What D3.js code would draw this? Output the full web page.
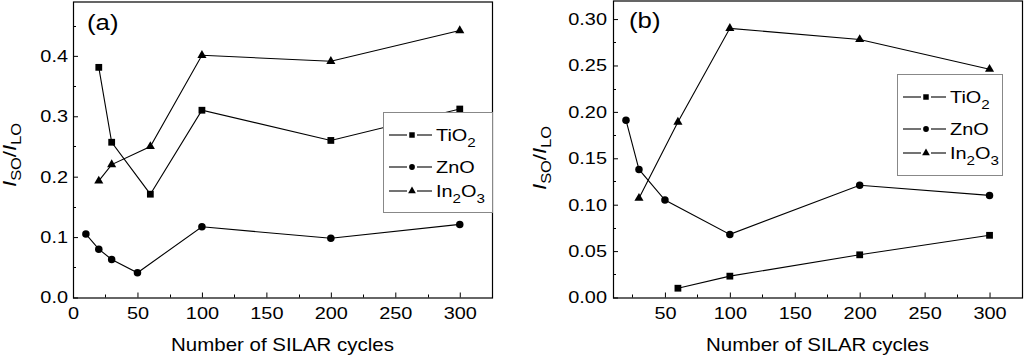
<!DOCTYPE html>
<html>
<head>
<meta charset="utf-8">
<script src="https://cdn.jsdelivr.net/npm/d3@7"></script>
<style>
  html, body { margin: 0; padding: 0; background: #fff; }
  svg { display: block; font-family: "Liberation Sans", Arial, sans-serif; }
</style>
</head>
<body>
<svg id="chart" width="1024" height="357"></svg>
<script>
// ---------- data ----------
const seriesNames = ["TiO2", "ZnO", "In2O3"];

// Panel (a)
const a_TiO2_x = [20, 30, 60, 100, 200, 300];
const a_TiO2_y = [0.381, 0.257, 0.171, 0.310, 0.260, 0.312];
const a_ZnO_x = [10, 20, 30, 50, 100, 200, 300];
const a_ZnO_y = [0.105, 0.080, 0.063, 0.041, 0.117, 0.098, 0.121];
const a_In2O3_x = [20, 30, 60, 100, 200, 300];
const a_In2O3_y = [0.193, 0.220, 0.250, 0.401, 0.391, 0.442];

// Panel (b)
const b_TiO2_x = [60, 100, 200, 300];
const b_TiO2_y = [0.010, 0.023, 0.046, 0.067];
const b_ZnO_x = [20, 30, 50, 100, 200, 300];
const b_ZnO_y = [0.191, 0.138, 0.105, 0.068, 0.121, 0.110];
const b_In2O3_x = [30, 60, 100, 200, 300];
const b_In2O3_y = [0.107, 0.189, 0.290, 0.278, 0.246];

// tick labels
const a_xTicks = [0, 50, 100, 150, 200, 250, 300];
const a_yTicks = [0.0, 0.1, 0.2, 0.3, 0.4];
const b_xTicks = [50, 100, 150, 200, 250, 300];
const b_yTicks = [0.00, 0.05, 0.10, 0.15, 0.20, 0.25, 0.30];

const xTitle = "Number of SILAR cycles";

// ---------- drawing ----------
const svg = d3.select("#chart");
const SX = 1.17; // horizontal stretch of the original typography

const symbols = [d3.symbolSquare, d3.symbolCircle, d3.symbolTriangle];
const markSizes = [46, 44, 36];
const legendSizes = [30, 26, 26];

function stretchedText(g, x, y, size, anchor) {
  return g.append("text")
    .attr("transform", `translate(${x},${y}) scale(${SX},1)`)
    .attr("font-size", size)
    .attr("text-anchor", anchor || "start")
    .attr("fill", "#000");
}

function panel(cfg) {
  const g = svg.append("g");
  const x = d3.scaleLinear().domain(cfg.xDomain).range([cfg.left, cfg.right]);
  const y = d3.scaleLinear().domain(cfg.yDomain).range([cfg.bottom, cfg.top]);

  // minor ticks
  const xMinor = d3.range(cfg.xMinorStart, cfg.xDomain[1], 50);
  const yMinor = cfg.yMinor;
  g.append("g").selectAll("line").data(xMinor).join("line")
    .attr("x1", d => Math.round(x(d)) + 0.5).attr("x2", d => Math.round(x(d)) + 0.5)
    .attr("y1", cfg.bottom).attr("y2", cfg.bottom - 3)
    .attr("stroke", "#000").attr("stroke-width", 1);
  g.append("g").selectAll("line").data(yMinor).join("line")
    .attr("y1", d => Math.round(y(d)) + 0.5).attr("y2", d => Math.round(y(d)) + 0.5)
    .attr("x1", cfg.left).attr("x2", cfg.left + 3)
    .attr("stroke", "#000").attr("stroke-width", 1);

  // axes
  const xAxis = d3.axisBottom(x).tickValues(cfg.xTicks).tickSize(-5).tickPadding(9)
    .tickFormat(d3.format("d"));
  const gx = g.append("g").attr("transform", `translate(0,${cfg.bottom})`).call(xAxis);
  gx.select(".domain").remove();
  gx.selectAll(".tick line").attr("stroke-width", 1);
  gx.selectAll(".tick text").attr("font-size", 17).attr("font-family", "Liberation Sans, Arial, sans-serif")
    .attr("transform", `scale(${SX},1)`).attr("fill", "#000");

  const yAxis = d3.axisLeft(y).tickValues(cfg.yTicks).tickSize(-5).tickPadding(0)
    .tickFormat(d3.format(cfg.yFormat));
  const gy = g.append("g").attr("transform", `translate(${cfg.left},0)`).call(yAxis);
  gy.select(".domain").remove();
  gy.selectAll(".tick text").attr("font-size", 17).attr("font-family", "Liberation Sans, Arial, sans-serif")
    .attr("x", null).attr("transform", `translate(${-cfg.yLabelGap},0) scale(${SX},1)`).attr("fill", "#000");

  // frame
  g.append("rect")
    .attr("x", cfg.left + 0.5).attr("y", cfg.top + 0.5)
    .attr("width", cfg.right - cfg.left).attr("height", cfg.bottom - cfg.top)
    .attr("fill", "none").attr("stroke", "#000").attr("stroke-width", 1.2);

  // series
  const line = d3.line().x(d => x(d[0])).y(d => y(d[1]));
  cfg.series.forEach((s, i) => {
    const pts = s.xs.map((v, k) => [v, s.ys[k]]);
    g.append("path").attr("d", line(pts)).attr("fill", "none")
      .attr("stroke", "#000").attr("stroke-width", 1.1);
    g.append("g").selectAll("path").data(pts).join("path")
      .attr("transform", d => `translate(${x(d[0])},${y(d[1])})`)
      .attr("d", d3.symbol().type(symbols[i]).size(markSizes[i]))
      .attr("fill", "#000");
  });

  // legend
  const L = cfg.legend;
  const lg = g.append("g");
  lg.append("rect").attr("x", L.x + 0.5).attr("y", L.y + 0.5)
    .attr("width", L.w).attr("height", L.h)
    .attr("fill", "#fff").attr("stroke", "#888").attr("stroke-width", 1);
  const rowOff = [23, 55, 79];
  seriesNames.forEach((nm, i) => {
    const cy = L.y + rowOff[i];
    lg.append("line").attr("x1", L.x + 6).attr("x2", L.x + 24).attr("y1", cy).attr("y2", cy)
      .attr("stroke", "#000").attr("stroke-width", 1.1);
    lg.append("line").attr("x1", L.x + 34).attr("x2", L.x + 49).attr("y1", cy).attr("y2", cy)
      .attr("stroke", "#000").attr("stroke-width", 1.1);
    lg.append("path").attr("transform", `translate(${L.x + 29},${cy})`)
      .attr("d", d3.symbol().type(symbols[i]).size(legendSizes[i])).attr("fill", "#000");
    const t = stretchedText(lg, L.x + 53, cy + 6, 17, "start");
    if (i === 0) { t.append("tspan").text("TiO"); t.append("tspan").attr("font-size", 13).attr("dy", 6).text("2"); }
    if (i === 1) { t.append("tspan").text("ZnO"); }
    if (i === 2) {
      t.append("tspan").text("In");
      t.append("tspan").attr("font-size", 13).attr("dy", 6).text("2");
      t.append("tspan").attr("dy", -6).text("O");
      t.append("tspan").attr("font-size", 13).attr("dy", 6).text("3");
    }
  });

  // panel label
  stretchedText(g, cfg.labelX, cfg.labelY, 22, "start").text(cfg.label);

  // x title
  stretchedText(g, (cfg.left + cfg.right) / 2, 351, 17.5, "middle").text(xTitle);

  // y title (rotated)
  const yt = g.append("text")
    .attr("transform", `translate(${cfg.yTitleX},${cfg.yTitleY}) rotate(-90) scale(${SX},1)`)
    .attr("font-size", 19).attr("text-anchor", "middle").attr("fill", "#000");
  yt.append("tspan").attr("font-style", "italic").text("I");
  yt.append("tspan").attr("font-size", 14).attr("dy", 5).text("SO");
  yt.append("tspan").attr("dy", -5).text("/");
  yt.append("tspan").attr("font-style", "italic").text("I");
  yt.append("tspan").attr("font-size", 14).attr("dy", 5).text("LO");
}

panel({
  left: 73, right: 492, top: 1.5, bottom: 297.5,
  xDomain: [0, 325], yDomain: [0, 0.49],
  xTicks: a_xTicks, yTicks: a_yTicks, yFormat: ".1f",
  xMinorStart: 25, yMinor: [0.05, 0.15, 0.25, 0.35, 0.45],
  yLabelGap: 5,
  series: [
    { xs: a_TiO2_x, ys: a_TiO2_y },
    { xs: a_ZnO_x, ys: a_ZnO_y },
    { xs: a_In2O3_x, ys: a_In2O3_y }
  ],
  legend: { x: 383, y: 112, w: 109, h: 100 },
  label: "(a)", labelX: 87, labelY: 30,
  yTitleX: 16, yTitleY: 155
});

panel({
  left: 613, right: 1022, top: 0.5, bottom: 297.5,
  xDomain: [10, 325], yDomain: [0, 0.32],
  xTicks: b_xTicks, yTicks: b_yTicks, yFormat: ".2f",
  xMinorStart: 25, yMinor: [0.025, 0.075, 0.125, 0.175, 0.225, 0.275],
  yLabelGap: 6,
  series: [
    { xs: b_TiO2_x, ys: b_TiO2_y },
    { xs: b_ZnO_x, ys: b_ZnO_y },
    { xs: b_In2O3_x, ys: b_In2O3_y }
  ],
  legend: { x: 897, y: 74, w: 105, h: 101 },
  label: "(b)", labelX: 629, labelY: 28,
  yTitleX: 546, yTitleY: 158
});
</script>
</body>
</html>
